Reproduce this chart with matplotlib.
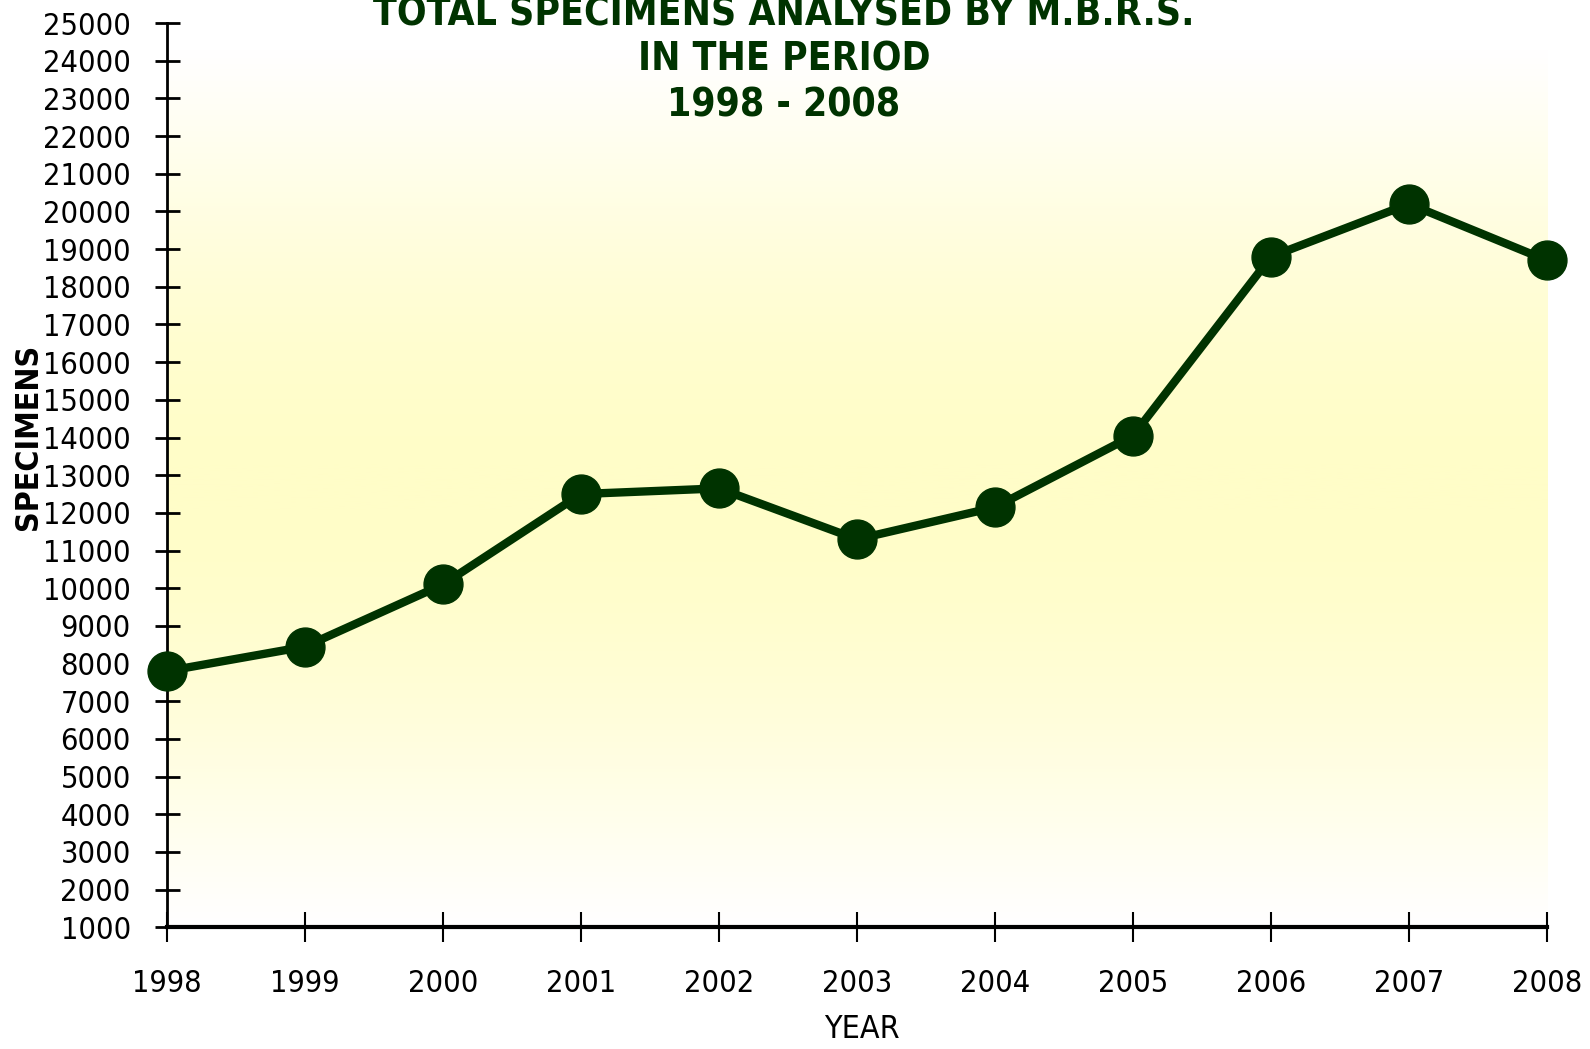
import numpy as np
import matplotlib
matplotlib.use("Agg")
import matplotlib.pyplot as plt
from matplotlib import font_manager
from matplotlib.font_manager import FontProperties
from matplotlib.colors import LinearSegmentedColormap

# data
years = [1998, 1999, 2000, 2001, 2002, 2003, 2004, 2005, 2006, 2007, 2008]
specimens = [7800, 8450, 10100, 12500, 12650, 11300, 12150, 14050, 18800, 20200, 18700]
y_ticks = list(range(1000, 26000, 1000))

title = "TOTAL SPECIMENS ANALYSED BY M.B.R.S.\nIN THE PERIOD\n1998 - 2008"
green = "#003300"


def find_font(bold):
    # look for a narrow / condensed face, the original uses one
    want = "bold" if bold else "normal"
    cands = []
    for f in font_manager.fontManager.ttflist:
        nm = (f.name + " " + f.fname).lower()
        if ("narrow" in nm or "condensed" in nm) and "oblique" not in nm and "italic" not in nm:
            is_bold = f.weight in ("bold", 700, "heavy", 800) or "bold" in f.fname.lower()
            if is_bold == bold:
                score = 0 if "liberation" in nm else (1 if "dejavu" in nm else 2)
                cands.append((score, f.fname))
    if cands:
        cands.sort()
        return FontProperties(fname=cands[0][1]), True
    return FontProperties(family=["Liberation Sans", "DejaVu Sans"], weight=want), False


fp_reg, narrow = find_font(False)
fp_bold, _ = find_font(True)

fig = plt.figure(figsize=(15.9, 10.49), dpi=100)
ax = fig.add_axes([0.105, 0.116, 0.868, 0.862])

# background: white -> pale yellow -> white, vertical
frac = np.linspace(0, 1, 400)[:, None]
shade = np.sin(np.pi * np.clip(frac * 1.03, 0, 1)) ** 1.1
cmap = LinearSegmentedColormap.from_list("bg", ["#ffffff", "#fffdc8"])
ax.imshow(shade, cmap=cmap, vmin=0, vmax=1, origin="lower", aspect="auto",
          extent=[1998, 2008, 1000, 25000], zorder=0)

ax.plot(years, specimens, color=green, lw=6, marker="o", ms=28,
        markerfacecolor=green, markeredgecolor=green, zorder=3, clip_on=False)

ax.set_xlim(1998, 2008)
ax.set_ylim(1000, 25000)
ax.set_xticks(years)
ax.set_yticks(y_ticks)

tick_size = 22 if narrow else 17
ax.set_xticklabels([str(y) for y in years], fontproperties=fp_reg, fontsize=tick_size)
ax.set_yticklabels([str(v) for v in y_ticks], fontproperties=fp_reg, fontsize=tick_size)

for s in ["top", "right"]:
    ax.spines[s].set_visible(False)
ax.spines["left"].set_linewidth(2)
ax.spines["bottom"].set_linewidth(3)

ax.tick_params(axis="y", direction="inout", length=18, width=2, pad=17)
ax.tick_params(axis="x", direction="inout", length=22, width=1.5, pad=19)

fig.text(0.493, 0.943, title, ha="center", va="center",
         fontproperties=fp_bold, fontsize=28 if narrow else 24,
         color=green, linespacing=1.25)
fig.text(0.018, 0.584, "SPECIMENS", rotation=90, ha="center", va="center",
         fontproperties=fp_bold, fontsize=23 if narrow else 19)
fig.text(0.542, 0.019, "YEAR", ha="center", va="center",
         fontproperties=fp_reg, fontsize=23 if narrow else 19)

fig.savefig("out.png", dpi=100)
